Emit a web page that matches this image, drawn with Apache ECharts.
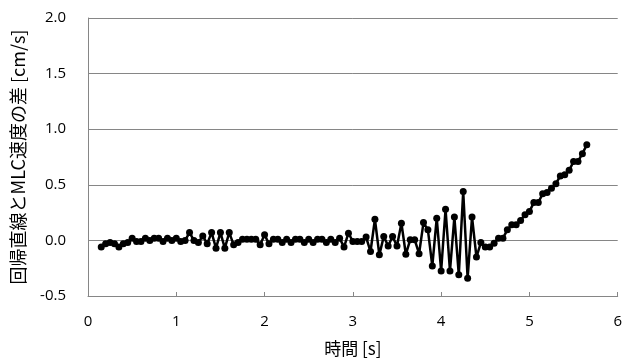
<!DOCTYPE html>
<html>
<head>
<meta charset="utf-8">
<script src="https://cdn.jsdelivr.net/npm/echarts@6/dist/echarts.min.js"></script>
<style>
html,body{margin:0;padding:0;background:#fff;}
#c{width:625px;height:362px;}
</style>
</head>
<body>
<div id="c"></div>
<script>
// time [s]
var times = [
0.15,0.20,0.25,0.30,0.35,0.40,0.45,0.50,0.55,0.60,
0.65,0.70,0.75,0.80,0.85,0.90,0.95,1.00,1.05,1.10,
1.15,1.20,1.25,1.30,1.35,1.40,1.45,1.50,1.55,1.60,
1.65,1.70,1.75,1.80,1.85,1.90,1.95,2.00,2.05,2.10,
2.15,2.20,2.25,2.30,2.35,2.40,2.45,2.50,2.55,2.60,
2.65,2.70,2.75,2.80,2.85,2.90,2.95,3.00,3.05,3.10,
3.15,3.20,3.25,3.30,3.35,3.40,3.45,3.50,3.55,3.60,
3.65,3.70,3.75,3.80,3.85,3.90,3.95,4.00,4.05,4.10,
4.15,4.20,4.25,4.30,4.35,4.40,4.45,4.50,4.55,4.60,
4.65,4.70,4.75,4.80,4.85,4.90,4.95,5.00,5.05,5.10,
5.15,5.20,5.25,5.30,5.35,5.40,5.45,5.50,5.55,5.60,
5.65
];
// difference between regression line and MLC speed [cm/s]
var diffs = [
-0.06,-0.03,-0.02,-0.03,-0.06,-0.03,-0.02,0.02,-0.01,-0.01,
0.02,0.00,0.02,0.02,-0.01,0.02,0.00,0.02,-0.01,0.00,
0.07,0.00,-0.02,0.04,-0.03,0.07,-0.07,0.07,-0.07,0.07,
-0.04,-0.02,0.01,0.01,0.01,0.01,-0.04,0.05,-0.03,0.01,
0.01,-0.02,0.01,-0.02,0.01,0.01,-0.02,0.01,-0.02,0.01,
0.01,-0.02,0.01,-0.02,0.02,-0.06,0.065,-0.01,-0.01,-0.01,
0.03,-0.10,0.19,-0.13,0.035,-0.05,0.035,-0.05,0.155,-0.125,
0.006,0.006,-0.12,0.16,0.095,-0.23,0.20,-0.275,0.28,-0.275,
0.21,-0.31,0.44,-0.34,0.21,-0.15,-0.02,-0.06,-0.06,-0.025,
0.02,0.02,0.095,0.14,0.14,0.18,0.23,0.26,0.34,0.34,
0.42,0.43,0.47,0.51,0.58,0.59,0.63,0.71,0.71,0.78,
0.86
];
var xTicks = [0,1,2,3,4,5,6];
var yTicks = [-0.5,0.0,0.5,1.0,1.5,2.0];

var data = times.map(function(t,i){return [t, diffs[i]];});
var chart = echarts.init(document.getElementById('c'), null, {renderer:'canvas'});
var latin = '"Open Sans","Noto Sans CJK JP",sans-serif';
chart.setOption({
  animation:false,
  backgroundColor:'#fff',
  grid:{left:88,right:3,top:18,bottom:57,containLabel:false},
  xAxis:{
    type:'value', min:xTicks[0], max:xTicks[xTicks.length-1], interval:1,
    name:'時間 [s]', nameLocation:'middle', nameGap:44,
    nameTextStyle:{fontFamily:'"Noto Sans CJK JP",sans-serif',fontSize:17,color:'#000'},
    axisLine:{onZero:false,lineStyle:{color:'#868686',width:1}},
    axisTick:{show:true,inside:true,length:4,lineStyle:{color:'#868686'}},
    axisLabel:{fontFamily:latin,fontSize:15,color:'#000',margin:18,showMaxLabel:true},
    splitLine:{show:false}
  },
  yAxis:{
    type:'value', min:yTicks[0], max:yTicks[yTicks.length-1], interval:0.5,
    name:'回帰直線とMLC速度の差 [cm/s]', nameLocation:'middle', nameGap:61, nameRotate:90,
    nameTextStyle:{fontFamily:'"Noto Sans CJK JP",sans-serif',fontSize:18,color:'#000'},
    axisLine:{show:true,lineStyle:{color:'#868686',width:1}},
    axisTick:{show:false},
    axisLabel:{fontFamily:latin,fontSize:15,color:'#000',margin:22,
      formatter:function(v){return v.toFixed(1);}},
    splitLine:{show:true,lineStyle:{color:'#868686',width:1}}
  },
  series:[{
    type:'line', data:data,
    symbol:'circle', symbolSize:7,
    itemStyle:{color:'#000'},
    lineStyle:{color:'#000',width:2.5},
    clip:false
  }]
});
</script>
</body>
</html>
